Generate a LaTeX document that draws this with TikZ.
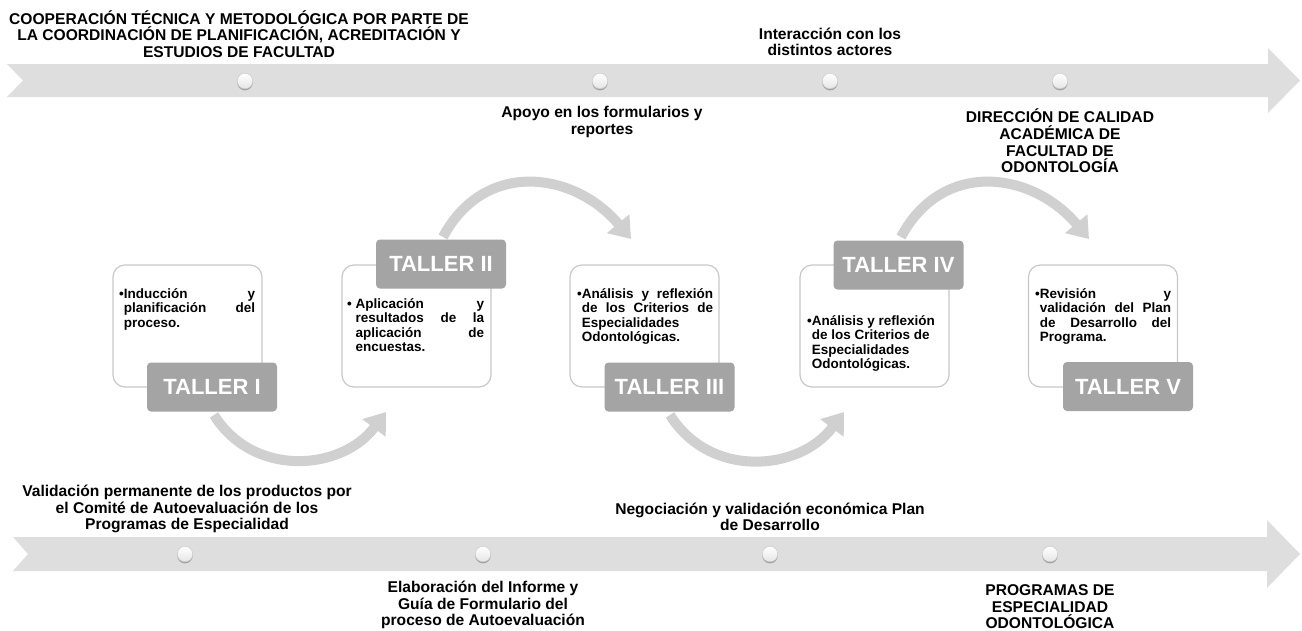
\documentclass[tikz,border=0pt]{standalone}
\usepackage{fontspec}
\setmainfont{Liberation Sans}
\usetikzlibrary{arrows.meta,shadows}
\definecolor{bandc}{HTML}{DEDEDE}
\definecolor{arcc}{HTML}{D0D0D0}
\definecolor{labc}{HTML}{A4A4A4}
\definecolor{boxline}{HTML}{C8C8C8}
\newlength\bw
\newcommand{\jline}[1]{\makebox[\linewidth][s]{#1}\par}
\newcommand{\hjline}[1]{\hspace*{\bw}\makebox[\dimexpr\linewidth-\bw\relax][s]{#1}\par}
\newcommand{\hln}[1]{\hspace*{\bw}#1\par}
\newcommand{\fln}[1]{#1\par}
\newcommand{\boxtext}[3]{\parbox[t]{#1}{\fontsize{13.5}{14.6}\selectfont\bfseries\settowidth\bw{#2}#3}}
\begin{document}
\begin{tikzpicture}[x=1pt,y=1pt,
  dot/.style={circle,minimum size=15.5pt,inner sep=0pt,top color=white,bottom color=gray!20,draw=gray!40,line width=0.5pt,
    drop shadow={shadow xshift=0pt,shadow yshift=-1.6pt,fill=gray!85,opacity=0.8}},
  lbl/.style={font=\fontsize{15.6}{16.6}\selectfont\bfseries,align=center,inner sep=0pt},
  card/.style={draw=boxline,line width=1.2pt,rounded corners=12pt,fill=white,minimum width=149pt,minimum height=122pt,inner sep=0pt},
  taller/.style={fill=labc,rounded corners=4pt,minimum width=130pt,minimum height=49pt,text=white,font=\fontsize{22}{24}\selectfont\bfseries,inner sep=0pt},
  arcarrow/.style={draw=arcc,line width=10pt,-{Triangle[length=20pt,width=28pt]}},
  btxt/.style={anchor=base west,inner sep=0pt}
]
\fill[white] (0,0) rectangle (1302,-630);
\useasboundingbox (0,0) rectangle (1302,-630);

% bands
\fill[bandc] (7,-64) -- (1268,-64) -- (1268,-48) -- (1300,-80.5) -- (1268,-113) -- (1268,-97) -- (7,-97) -- (23,-80.5) -- cycle;
\fill[bandc] (13,-537) -- (1267,-537) -- (1267,-520) -- (1300,-554) -- (1267,-588) -- (1267,-571) -- (13,-571) -- (28,-554) -- cycle;

% dots
\node[dot] (t1) at (245,-81) {};
\node[dot] (t2) at (600,-81) {};
\node[dot] (t3) at (830,-81) {};
\node[dot] (t4) at (1060,-81) {};
\node[dot] (b1) at (185,-554) {};
\node[dot] (b2) at (483,-554) {};
\node[dot] (b3) at (770,-554) {};
\node[dot] (b4) at (1050,-554) {};

% top / bottom labels
\node[lbl] (coop) at (239,-34) {COOPERACIÓN TÉCNICA Y METODOLÓGICA POR PARTE DE\\LA COORDINACIÓN DE PLANIFICACIÓN, ACREDITACIÓN Y\\ESTUDIOS DE FACULTAD};
\node[lbl] (apoyo) at (602,-122) {Apoyo en los formularios y\\reportes};
\node[lbl] (inter) at (830,-42) {Interacción con los\\distintos actores};
\node[lbl] (dir) at (1060,-141) {DIRECCIÓN DE CALIDAD\\ACADÉMICA DE\\FACULTAD DE\\ODONTOLOGÍA};
\node[lbl] (valid) at (187,-509) {Validación permanente de los productos por\\el Comité de Autoevaluación de los\\Programas de Especialidad};
\node[lbl] (elab) at (483,-605) {Elaboración del Informe y\\Guía de Formulario del\\proceso de Autoevaluación};
\node[lbl] (nego) at (770,-517) {Negociación y validación económica Plan\\de Desarrollo};
\node[lbl] (prog) at (1050,-607) {PROGRAMAS DE\\ESPECIALIDAD\\ODONTOLÓGICA};

% curved arrows
\coordinate (a1s) at (214,-415); \coordinate (a1e) at (386,-412);
\coordinate (a2s) at (443,-237); \coordinate (a2e) at (631,-239);
\coordinate (a3s) at (670,-415); \coordinate (a3e) at (844,-412);
\coordinate (a4s) at (901,-237); \coordinate (a4e) at (1089,-239);
\draw[arcarrow] (a1s) to[out=-58,in=-127,looseness=1.1] (a1e);
\draw[arcarrow] (a2s) to[out=62,in=130,looseness=1.2] (a2e);
\draw[arcarrow] (a3s) to[out=-58,in=-127,looseness=1.1] (a3e);
\draw[arcarrow] (a4s) to[out=62,in=130,looseness=1.2] (a4e);

% cards
\node[card] (c1) at (187.5,-326) {};
\node[card] (c2) at (416.5,-326) {};
\node[card] (c3) at (644.5,-326) {};
\node[card] (c4) at (874.5,-326) {};
\node[card] (c5) at (1103,-326) {};

% card texts
\node[btxt] (x1) at (119,-298) {\boxtext{136pt}{•}{\jline{•Inducción y}\hjline{planificación del}\hln{proceso.}}};
\node[btxt] (x2) at (347,-308) {\boxtext{137pt}{• }{\jline{\mbox{• Aplicación} y}\hjline{resultados de la}\hjline{aplicación de}\hln{encuestas.}}};
\node[btxt] (x3) at (577,-298) {\boxtext{136pt}{•}{\jline{•Análisis y reflexión}\hjline{de los Criterios de}\hln{Especialidades}\hln{Odontológicas.}}};
\node[btxt] (x4) at (807,-325) {\boxtext{136pt}{•}{\fln{•Análisis y reflexión}\hln{de los Criterios de}\hln{Especialidades}\hln{Odontológicas.}}};
\node[btxt] (x5) at (1035,-298) {\boxtext{136pt}{•}{\jline{•Revisión y}\hjline{validación del Plan}\hjline{de Desarrollo del}\hln{Programa.}}};

% taller labels
\node[taller] (l1) at (212,-387) {TALLER I};
\node[taller] (l2) at (441,-264) {TALLER II};
\node[taller] (l3) at (669.5,-387) {TALLER III};
\node[taller] (l4) at (898.5,-265) {TALLER IV};
\node[taller] (l5) at (1128,-386.5) {TALLER V};
\end{tikzpicture}
\end{document}
